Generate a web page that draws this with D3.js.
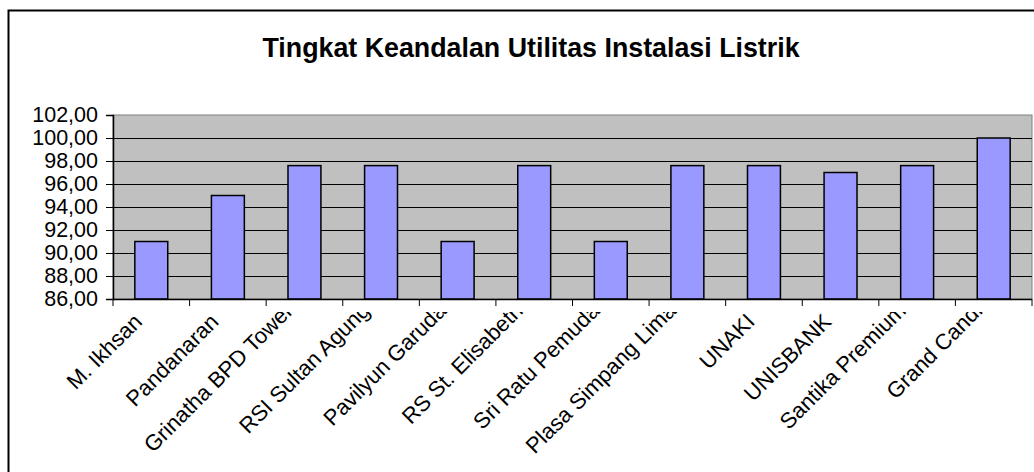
<!DOCTYPE html>
<html>
<head>
<meta charset="utf-8">
<script src="https://cdn.jsdelivr.net/npm/d3@7"></script>
<style>
  body { margin: 0; background: #fff; }
  svg { display: block; font-family: Arial, "Liberation Sans", sans-serif; }
</style>
</head>
<body>
<div id="chart"></div>
<script>
const categories = ["M. Ikhsan", "Pandanaran", "Grinatha BPD Tower", "RSI Sultan Agung",
  "Pavilyun Garuda", "RS St. Elisabeth", "Sri Ratu Pemuda", "Plasa Simpang Lima",
  "UNAKI", "UNISBANK", "Santika Premium", "Grand Candi"];
const values = [91.0, 95.0, 97.6, 97.6, 91.0, 97.6, 91.0, 97.6, 97.6, 97.0, 97.6, 100.0];
const yTicks = [86, 88, 90, 92, 94, 96, 98, 100, 102];
const title = "Tingkat Keandalan Utilitas Instalasi Listrik";

const W = 1034, H = 472;
const plot = {left: 113, right: 1032, top: 115, bottom: 299};

const svg = d3.select("#chart").append("svg")
  .attr("width", W).attr("height", H);

// chart area border (runs off the right and bottom edge)
svg.append("rect")
  .attr("x", 8.5).attr("y", 10.5)
  .attr("width", 1100).attr("height", 600)
  .attr("fill", "#fff").attr("stroke", "#000").attr("stroke-width", 2);

svg.append("text")
  .attr("x", 531).attr("y", 57)
  .attr("text-anchor", "middle")
  .style("font-size", "26.8px").style("font-weight", "bold")
  .text(title);

const x = d3.scaleBand().domain(categories).range([plot.left, plot.right]).padding(0);
const xBar = d3.scaleBand().domain(categories).range([plot.left, plot.right])
  .paddingInner(0.57).paddingOuter(0.285);
const y = d3.scaleLinear().domain([86, 102]).range([plot.bottom, plot.top]);

const fmt = d3.formatLocale({decimal: ",", thousands: ".", grouping: [3], currency: ["", ""]}).format(".2f");

// plot background
svg.append("rect")
  .attr("x", plot.left).attr("y", plot.top)
  .attr("width", plot.right - plot.left).attr("height", plot.bottom - plot.top)
  .attr("fill", "#c0c0c0").attr("stroke", "#808080").attr("stroke-width", 1);

// gridlines
svg.append("g").selectAll("line")
  .data(yTicks.filter(d => d > 86 && d < 102))
  .join("line")
    .attr("x1", plot.left).attr("x2", plot.right)
    .attr("y1", d => Math.round(y(d)) + 0.5).attr("y2", d => Math.round(y(d)) + 0.5)
    .attr("stroke", "#000").attr("stroke-width", 1);

// bars
svg.append("g").selectAll("rect")
  .data(values)
  .join("rect")
    .attr("x", (d, i) => xBar(categories[i]))
    .attr("width", xBar.bandwidth())
    .attr("y", d => y(d))
    .attr("height", d => y(86) - y(d))
    .attr("fill", "#9999ff")
    .attr("stroke", "#000").attr("stroke-width", 1.5);

// y axis
const yAxis = svg.append("g")
  .attr("transform", `translate(${plot.left},0)`)
  .call(d3.axisLeft(y).tickValues(yTicks).tickFormat(fmt).tickSize(7).tickPadding(8));
yAxis.select(".domain").attr("stroke", "#000").attr("stroke-width", 1.5);
yAxis.selectAll(".tick line").attr("stroke", "#000");
yAxis.selectAll(".tick text")
  .style("font-size", "21.5px").style("font-family", "Arial, 'Liberation Sans', sans-serif")
  .attr("fill", "#000");

// x axis line + boundary ticks
const xg = svg.append("g");
xg.append("line")
  .attr("x1", plot.left).attr("x2", plot.right)
  .attr("y1", plot.bottom + 0.5).attr("y2", plot.bottom + 0.5)
  .attr("stroke", "#000").attr("stroke-width", 1.5);
const bounds = categories.map(c => x(c)).concat([plot.right]);
xg.selectAll(".bt")
  .data(bounds)
  .join("line")
    .attr("class", "bt")
    .attr("x1", d => d).attr("x2", d => d)
    .attr("y1", plot.bottom).attr("y2", plot.bottom + 7)
    .attr("stroke", "#000").attr("stroke-width", 1);

// rotated category labels; long ones are pushed up and clipped like the original
svg.append("clipPath").attr("id", "lblclip")
  .append("rect").attr("x", 0).attr("y", 312).attr("width", W).attr("height", H);

const lbl = svg.append("g").attr("clip-path", "url(#lblclip)")
  .selectAll("text")
  .data(categories)
  .join("text")
    .attr("text-anchor", "end")
    .style("font-size", "22px")
    .text(d => d);

lbl.attr("transform", function(d) {
  const long = this.getComputedTextLength() > 122;
  const cx = x(d) + x.bandwidth() / 2 + (long ? -10 : -8);
  const cy = long ? 312 : 323;
  return `translate(${cx},${cy}) rotate(-45)`;
});
</script>
</body>
</html>
